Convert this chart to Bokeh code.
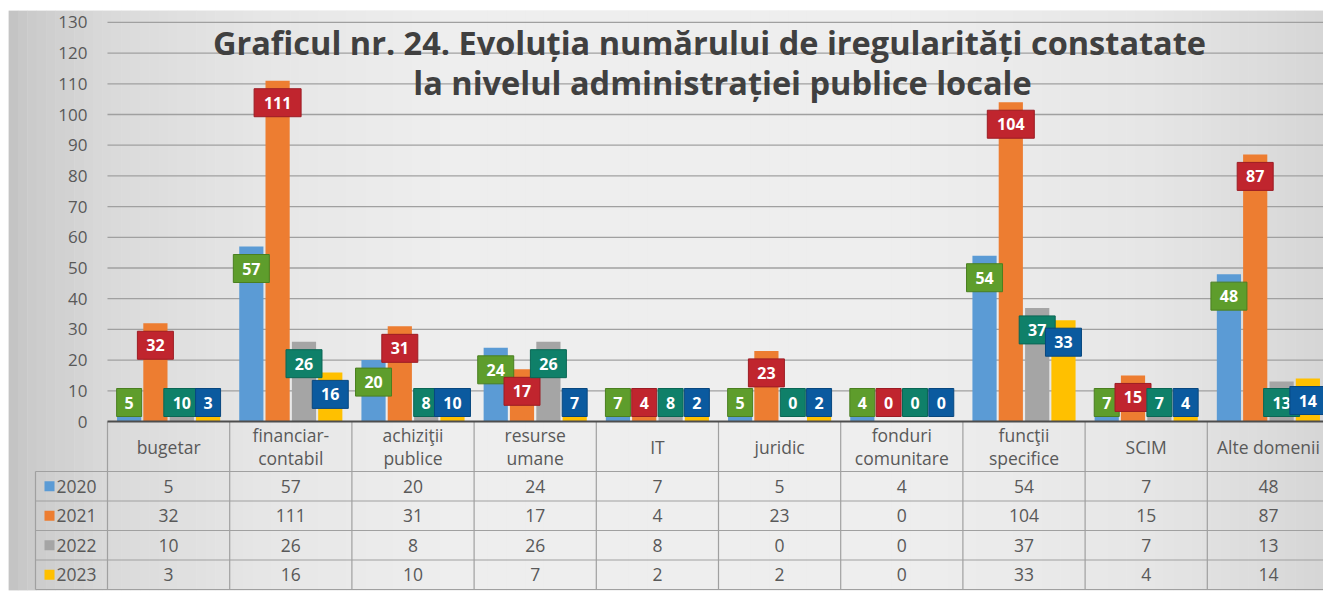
from bokeh.plotting import figure
from bokeh.models import ColumnDataSource, LinearAxis, FixedTicker, Range1d, Label
from bokeh.core.properties import value
from bokeh.embed import file_html
from bokeh.resources import INLINE

# ---------------- data ----------------
TITLE_1 = "Graficul nr. 24. Evoluția numărului de iregularități constatate"
TITLE_2 = "la nivelul administrației publice locale"
CATEGORIES = ["bugetar", "financiar-\ncontabil", "achiziţii\npublice", "resurse\numane", "IT",
              "juridic", "fonduri\ncomunitare", "funcţii\nspecifice", "SCIM", "Alte domenii"]
YEARS = ["2020", "2021", "2022", "2023"]
V2020 = [5, 57, 20, 24, 7, 5, 4, 54, 7, 48]
V2021 = [32, 111, 31, 17, 4, 23, 0, 104, 15, 87]
V2022 = [10, 26, 8, 26, 8, 0, 0, 37, 7, 13]
V2023 = [3, 16, 10, 7, 2, 2, 0, 33, 4, 14]
Y_TICKS = list(range(0, 131, 10))

SERIES = [V2020, V2021, V2022, V2023]
BAR_COLORS = ["#5b9bd5", "#ed7d31", "#a5a5a5", "#ffc000"]
BOX_COLORS = ["#5e9d2c", "#c0252e", "#0f8069", "#0b5a9f"]
BOX_EDGE = ["#4a7f20", "#9c1c24", "#0a6654", "#08477f"]

# ---------------- layout constants (px from page top-left) ----------------
FIG_W, FIG_H = 1323, 592
PX_U = 3.07            # pixels per value unit
CAT_PX = 122.2         # pixels per category
ZERO_X = 107           # plot-area left edge
ZERO_Y = 421           # value 0
FRAME_L, FRAME_T, FRAME_B = 8, 10, 590
X0 = -(ZERO_X - FRAME_L) / CAT_PX
X1 = (FIG_W - ZERO_X) / CAT_PX
Y1 = (ZERO_Y - FRAME_T) / PX_U
Y0 = -(FRAME_B - ZERO_Y) / PX_U
NCAT = len(CATEGORIES)
OFFSETS = [-0.323, -0.108, 0.108, 0.323]
BAR_W = 0.198
HEADER_PX, ROW_PX = 50, 29.5
TABLE_LEFT = 35

TXT = "#595959"
GRID = "#a0a0a0"
FONT = value("Open Sans")

p = figure(width=FIG_W, height=FIG_H, output_backend="svg", toolbar_location=None,
           x_axis_type=None, y_axis_type=None,
           x_range=Range1d(X0, X1), y_range=Range1d(Y0, Y1),
           min_border_left=FRAME_L, min_border_right=0, min_border_top=FRAME_T,
           min_border_bottom=FIG_H - FRAME_B)
p.outline_line_color = None
p.border_fill_color = "white"
p.background_fill_color = "#ececec"

def sx(px):
    return (px - ZERO_X) / CAT_PX

def sy(px):
    return (ZERO_Y - px) / PX_U

# background gradient (left/right darker, centre light)
STOPS = [(8, 0xc2), (30, 0xcb), (110, 0xda), (260, 0xe6), (450, 0xee), (900, 0xee),
         (1150, 0xe6), (1323, 0xd6)]
N = 140
gx0, gx1, gc = [], [], []
for i in range(N):
    a = FRAME_L + (FIG_W - FRAME_L) * i / N
    b = FRAME_L + (FIG_W - FRAME_L) * (i + 1) / N
    m = (a + b) / 2
    lv = STOPS[-1][1]
    for (pa, la), (pb, lb) in zip(STOPS[:-1], STOPS[1:]):
        if pa <= m <= pb:
            lv = int(round(la + (lb - la) * (m - pa) / (pb - pa)))
            break
    gx0.append(sx(a))
    gx1.append(sx(b) + 0.003)
    gc.append("#%02x%02x%02x" % (lv, lv, lv))
p.quad(left=gx0, right=gx1, bottom=Y0, top=Y1, fill_color=gc, line_color=None)

# horizontal grid lines (value axis)
grid_ticks = [t for t in Y_TICKS if t > 0]
p.segment(x0=[0] * len(grid_ticks), x1=[X1] * len(grid_ticks), y0=grid_ticks, y1=grid_ticks,
          line_color=GRID, line_width=1.3)

# ---------------- bars ----------------
for k, vals in enumerate(SERIES):
    xs = [i + 0.5 + OFFSETS[k] for i in range(NCAT)]
    p.vbar(x=xs, top=vals, bottom=0, width=BAR_W, fill_color=BAR_COLORS[k], line_color=None)

# ---------------- data label boxes ----------------
for k, vals in enumerate(SERIES):
    xs = [i + 0.5 + OFFSETS[k] for i in range(NCAT)]
    ys = [max(v - 22 / PX_U, 19 / PX_U) for v in vals]
    txt = [str(v) for v in vals]
    ws = [14 + 11 * len(t) for t in txt]
    src = ColumnDataSource(dict(x=xs, y=ys, t=txt, w=ws))
    p.rect(x="x", y="y", width="w", height=28, width_units="screen", height_units="screen",
           source=src, fill_color=BOX_COLORS[k], line_color=BOX_EDGE[k], line_width=1)
    p.text(x="x", y="y", text="t", source=src, text_color="white", text_font=FONT,
           text_font_style="bold", text_font_size="16px", text_align="center",
           text_baseline="middle")

# ---------------- data table ----------------
hdr_b = -HEADER_PX / PX_U
row_lines = [hdr_b - ROW_PX * (r + 1) / PX_U for r in range(len(YEARS))]
h_lines = [hdr_b] + row_lines
tl = sx(TABLE_LEFT)
p.segment(x0=[tl] * len(h_lines), x1=[X1] * len(h_lines), y0=h_lines, y1=h_lines,
          line_color=GRID, line_width=1.2)
vx = list(range(NCAT + 1))
p.segment(x0=vx, x1=vx, y0=[0] * len(vx), y1=[row_lines[-1]] * len(vx),
          line_color=GRID, line_width=1.2)
p.segment(x0=[tl], x1=[tl], y0=[hdr_b], y1=[row_lines[-1]], line_color=GRID, line_width=1.2)

# category header
p.text(x=[i + 0.5 for i in range(NCAT)], y=[hdr_b / 2] * NCAT, text=CATEGORIES,
       text_color=TXT, text_font=FONT, text_font_size="17.5px", text_align="center",
       text_baseline="middle", text_line_height=0.95)

# rows
for k, vals in enumerate(SERIES):
    yc = hdr_b - ROW_PX * (k + 0.5) / PX_U
    p.text(x=[i + 0.5 for i in range(NCAT)], y=[yc] * NCAT, text=[str(v) for v in vals],
           text_color=TXT, text_font=FONT, text_font_size="17.5px", text_align="center",
           text_baseline="middle")
    p.scatter(x=[sx(49)], y=[yc], marker="square", size=10,
              fill_color=BAR_COLORS[k], line_color=None)
    p.text(x=[sx(56)], y=[yc], text=[YEARS[k]], text_color=TXT, text_font=FONT,
           text_font_size="17.5px", text_align="left", text_baseline="middle")

# zero / category axis line
p.segment(x0=[0], x1=[X1], y0=[0], y1=[0], line_color="#4d4d4d", line_width=2.2)

# ---------------- value axis ----------------
yaxis = LinearAxis(fixed_location=0, ticker=FixedTicker(ticks=Y_TICKS))
yaxis.axis_line_color = None
yaxis.major_tick_line_color = None
yaxis.minor_tick_line_color = None
yaxis.major_label_text_font = "Open Sans"
yaxis.major_label_text_font_size = "17px"
yaxis.major_label_text_color = TXT
yaxis.major_label_standoff = 14
p.add_layout(yaxis, "left")

# ---------------- title ----------------
for txt, cx, base in [(TITLE_1, 709, 42), (TITLE_2, 722, 82)]:
    p.add_layout(Label(x=sx(cx), y=sy(base), text=txt,
                       text_font="Open Sans", text_font_style="bold", text_font_size="32.5px",
                       text_color="#404040", text_align="center", text_baseline="alphabetic"))

open("out.html", "w").write(file_html(p, INLINE))
